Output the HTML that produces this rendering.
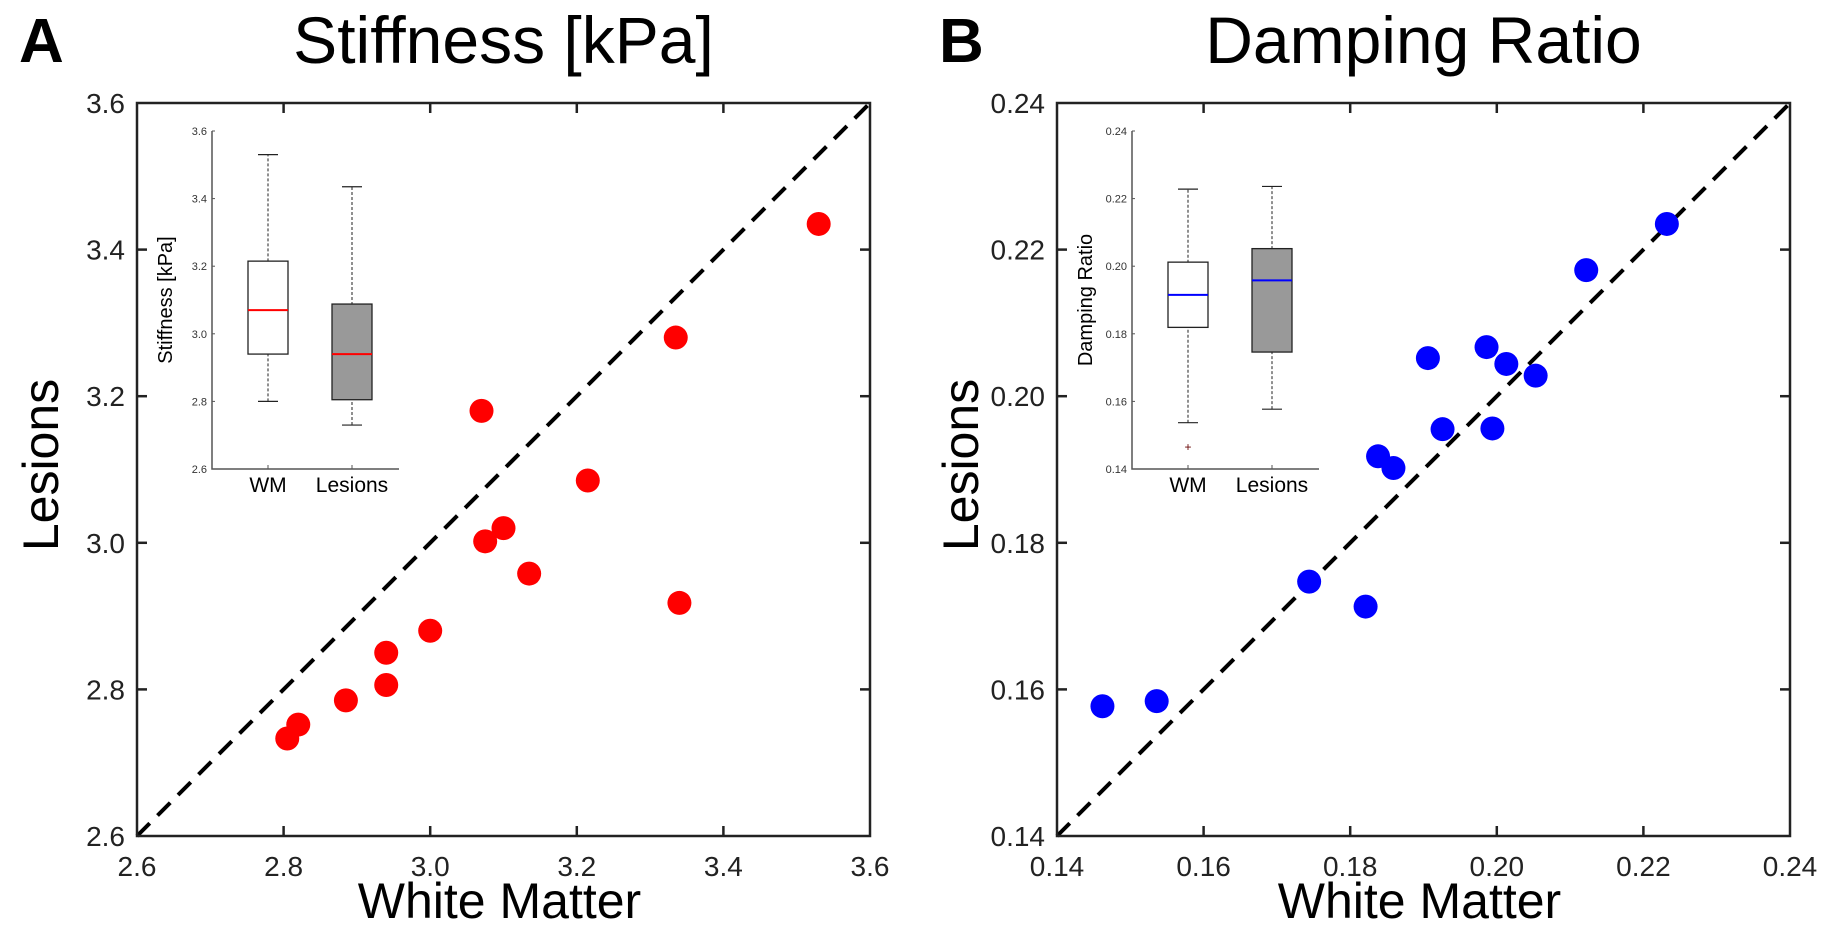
<!DOCTYPE html>
<html><head><meta charset="utf-8"><style>
html,body{margin:0;padding:0;background:#fff;width:1836px;height:936px;overflow:hidden}
svg text{font-family:"Liberation Sans",Arial,sans-serif}
</style></head><body>
<svg id="fig" width="1836" height="936" viewBox="0 0 1836 936" xmlns="http://www.w3.org/2000/svg"></svg>
<script>
// Panel A data (Stiffness [kPa])
const stiffWM = [3.53,3.335,3.07,3.215,3.10,3.075,3.135,3.34,3.0,2.94,2.94,2.885,2.82,2.805];
const stiffLes = [3.435,3.28,3.18,3.085,3.02,3.002,2.958,2.918,2.88,2.85,2.806,2.785,2.752,2.733];
const stiffTicks = ["2.6","2.8","3.0","3.2","3.4","3.6"];
const stiffBoxWM = [2.80,2.94,3.07,3.215,3.53];   // min,q1,med,q3,max
const stiffBoxLes = [2.73,2.805,2.94,3.088,3.435];
const stiffOutWM = [];
// Panel B data (Damping Ratio)
const dampWM = [0.2232,0.2122,0.1906,0.1986,0.2013,0.2053,0.1926,0.1994,0.1838,0.1859,0.1744,0.1821,0.1536,0.1462];
const dampLes = [0.2235,0.2172,0.2052,0.2067,0.2044,0.2028,0.1955,0.1956,0.1918,0.1902,0.1747,0.1713,0.1584,0.1577];
const dampTicks = ["0.14","0.16","0.18","0.20","0.22","0.24"];
const dampBoxWM = [0.1537,0.1819,0.1915,0.2012,0.2228];
const dampBoxLes = [0.1577,0.1746,0.1958,0.2052,0.2236];
const dampOutWM = [0.1465];

const NS="http://www.w3.org/2000/svg";
const svg=document.getElementById('fig');
function mk(tag,attrs,parent,text){const e=document.createElementNS(NS,tag);for(const k in attrs)e.setAttribute(k,attrs[k]);if(text!==undefined)e.textContent=text;(parent||svg).appendChild(e);return e;}

function panel(o){
  const g=mk('g',{});
  
  
  const L=o.left,R=o.left+733,T=103,B=836;
  const lo=+o.ticks[0],hi=+o.ticks[o.ticks.length-1];
  const sx=v=>L+(v-lo)/(hi-lo)*(R-L);
  const sy=v=>B-(v-lo)/(hi-lo)*(B-T);
  const lt=mk('text',{x:o.left-118,y:62,'font-size':62,'font-weight':'bold'},g,o.letter);
  
  
  const tt=mk('text',{x:(L+R)/2,y:63,'font-size':66,'text-anchor':'middle'},g,o.title);
  
  
  const dl=mk('line',{x1:sx(lo),y1:sy(lo),x2:sx(hi),y2:sy(hi),stroke:'#000','stroke-width':4,'stroke-dasharray':'18 11'},g);
  
  
  const fr=mk('rect',{x:L,y:T,width:R-L,height:B-T,fill:'none',stroke:'#222','stroke-width':2.5},g);
  
  
  o.ticks.forEach((t,i)=>{
    const v=+t,x=sx(v),y=sy(v);
    if(i>0&&i<o.ticks.length-1){
      mk('line',{x1:x,y1:B,x2:x,y2:B-10,stroke:'#222','stroke-width':2.5},g);
      mk('line',{x1:x,y1:T,x2:x,y2:T+10,stroke:'#222','stroke-width':2.5},g);
      mk('line',{x1:L,y1:y,x2:L+10,y2:y,stroke:'#222','stroke-width':2.5},g);
      mk('line',{x1:R,y1:y,x2:R-10,y2:y,stroke:'#222','stroke-width':2.5},g);
    }
    const xl=mk('text',{x:x,y:B+40,'font-size':28,'text-anchor':'middle',fill:'#222'},g,t);
    
    
    const yl=mk('text',{x:L-12,y:y+10,'font-size':28,'text-anchor':'end',fill:'#222'},g,t);
    
    
  });
  const xt=mk('text',{x:(L+R)/2-4,y:918,'font-size':50,'text-anchor':'middle'},g,'White Matter');
  
  
  const yt=mk('text',{x:0,y:0,'font-size':50,'text-anchor':'middle',transform:`translate(${o.left-79},465) rotate(-90)`},g,'Lesions');
  
  
  o.x.forEach((xv,i)=>{
    const c=mk('circle',{cx:sx(xv),cy:sy(o.y[i]),r:12,fill:o.color},g);
    
    
  });
  const iL=L+75,iR=L+262,iT=131,iB=469;
  const iy=v=>iB-(v-lo)/(hi-lo)*(iB-iT);
  const ig=mk('g',{},g);
  
  
  mk('polyline',{points:`${iL},${iT} ${iL},${iB} ${iR},${iB}`,fill:'none',stroke:'#555','stroke-width':1.5},ig);
  o.ticks.forEach(t=>{
    const y=iy(+t);
    mk('line',{x1:iL,y1:y,x2:iL+3,y2:y,stroke:'#555','stroke-width':1},ig);
    const l=mk('text',{x:iL-5,y:y+4,'font-size':11,'text-anchor':'end',fill:'#333'},ig,t);
    
    
  });
  const iyl=mk('text',{x:0,y:0,'font-size':20,'text-anchor':'middle',transform:`translate(${iL-40},${(iT+iB)/2}) rotate(-90)`},ig,o.insetLabel);
  
  
  [[o.boxWM,56,'#fff','WM',o.outWM],[o.boxLes,140,'#999','Lesions',[]]].forEach(([b,dx,fill,lab,outs])=>{
    const cx=iL+dx,w=40;
    mk('line',{x1:cx,y1:iB,x2:cx,y2:iB-4,stroke:'#555','stroke-width':1},ig);
    mk('line',{x1:cx,y1:iy(b[0]),x2:cx,y2:iy(b[4]),stroke:'#222','stroke-width':1,'stroke-dasharray':'3 2'},ig);
    mk('line',{x1:cx-10,y1:iy(b[0]),x2:cx+10,y2:iy(b[0]),stroke:'#222','stroke-width':1.2},ig);
    mk('line',{x1:cx-10,y1:iy(b[4]),x2:cx+10,y2:iy(b[4]),stroke:'#222','stroke-width':1.2},ig);
    const r=mk('rect',{x:cx-w/2,y:iy(b[3]),width:w,height:iy(b[1])-iy(b[3]),fill:fill,stroke:'#222','stroke-width':1.3},ig);
    
    
    mk('line',{x1:cx-w/2,y1:iy(b[2]),x2:cx+w/2,y2:iy(b[2]),stroke:o.color,'stroke-width':2},ig);
    outs.forEach(v=>{
      const p=mk('text',{x:cx,y:iy(v)+4,'font-size':12,'text-anchor':'middle',fill:'#600'},ig,'+');
      
      
    });
    const lt2=mk('text',{x:cx,y:492,'font-size':21,'text-anchor':'middle'},ig,lab);
    
    
  });
}
panel({name:'stiffness',letter:'A',title:'Stiffness [kPa]',left:137,ticks:stiffTicks,x:stiffWM,y:stiffLes,color:'#ff0000',insetLabel:'Stiffness [kPa]',boxWM:stiffBoxWM,boxLes:stiffBoxLes,outWM:stiffOutWM});
panel({name:'damping',letter:'B',title:'Damping Ratio',left:1057,ticks:dampTicks,x:dampWM,y:dampLes,color:'#0000ff',insetLabel:'Damping Ratio',boxWM:dampBoxWM,boxLes:dampBoxLes,outWM:dampOutWM});
</script>
</body></html>
